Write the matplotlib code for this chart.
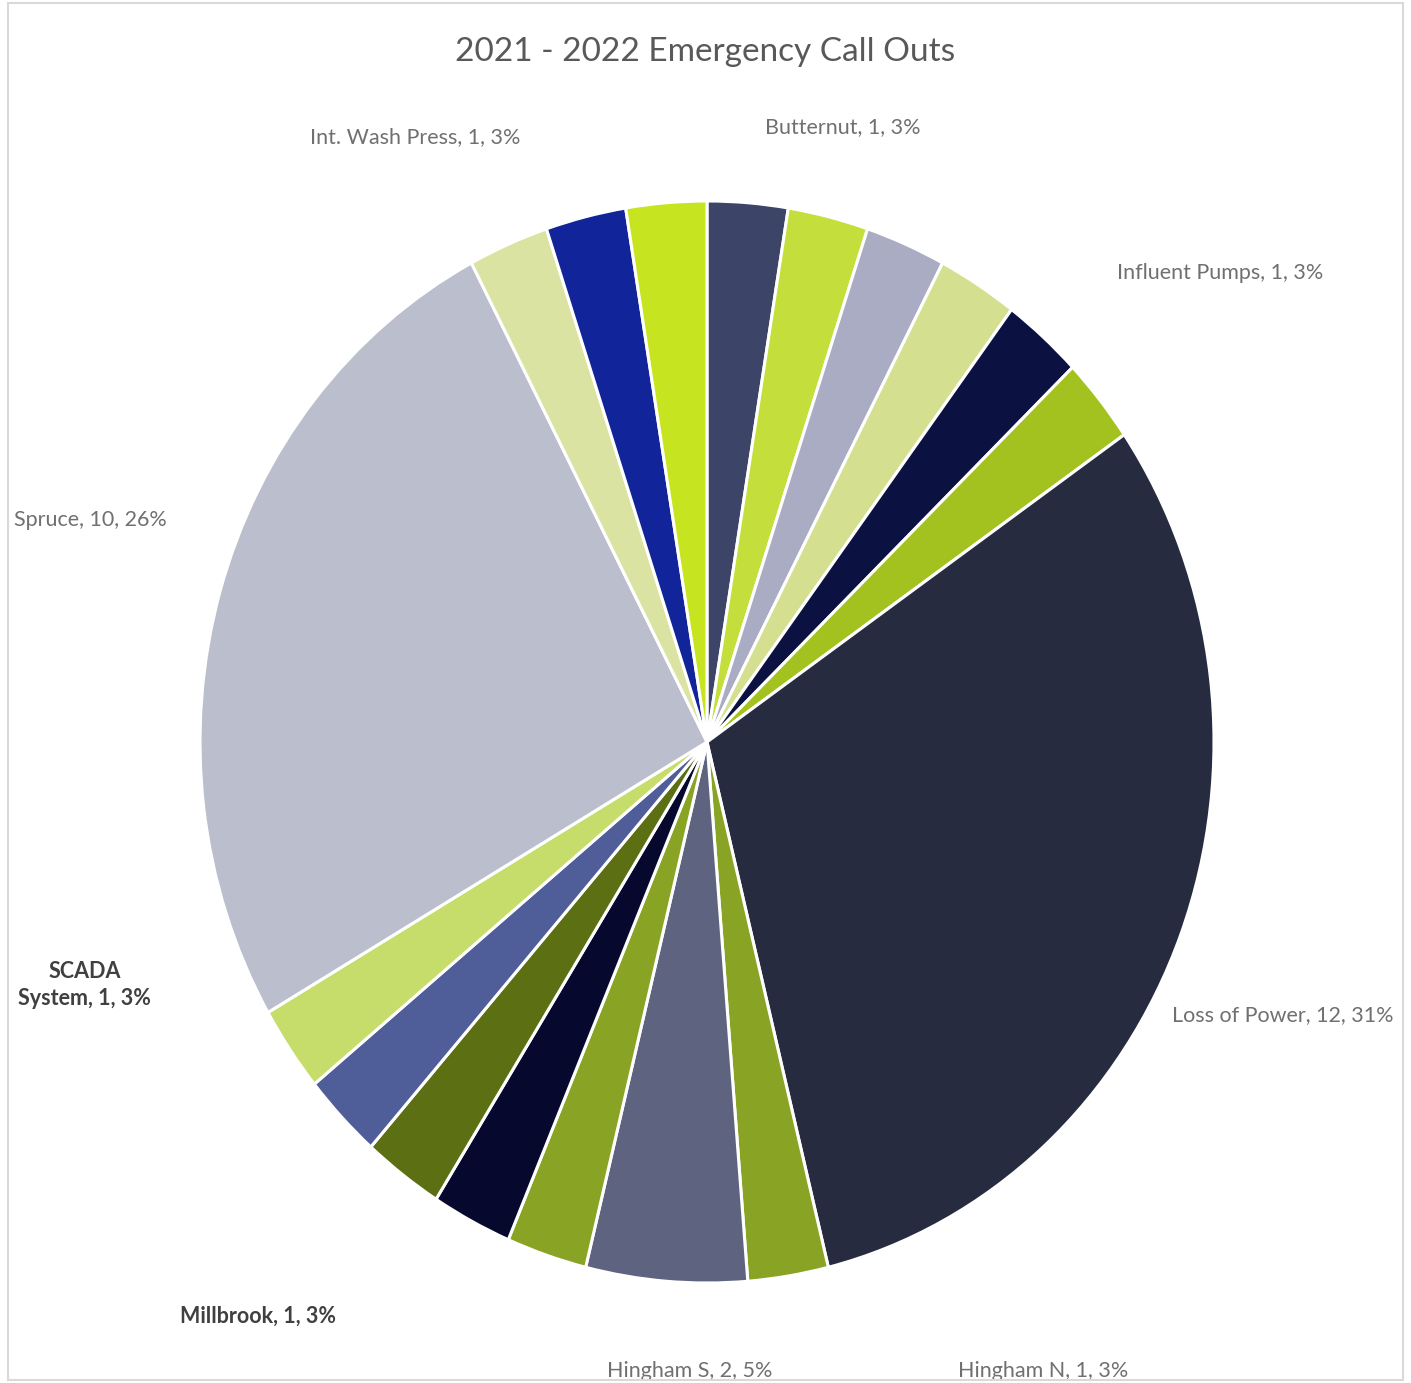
"""
2021 - 2022 emergency call outs, pie chart.
"""

import matplotlib
matplotlib.use("Agg")
import matplotlib.pyplot as plt
from matplotlib.patches import Rectangle

# slices clockwise from 12 o'clock; unlabelled slices have no name in the chart
categories = ["", "Butternut", "", "", "", "Influent Pumps", "Loss of Power",
              "Hingham N", "Hingham S", "", "", "Millbrook", "", "SCADA System",
              "Spruce", "Int. Wash Press", "", ""]
values = [1, 1, 1, 1, 1, 1, 12, 1, 2, 1, 1, 1, 1, 1, 10, 1, 1, 1]
colors = ["#3c4467", "#c4de3c", "#a9acc3", "#d4e08f", "#0b1241", "#a4c21f",
          "#262b40", "#89a325", "#5e6480", "#89a325", "#06082d", "#5c6f12",
          "#4f5d98", "#c6dd6b", "#bbbecd", "#dbe3a3", "#11249a", "#c6e41f"]

# label anchors (pie radius = 1), and which labels are bold / wrapped
label_pos = {
    "Int. Wash Press": (-0.576, 1.118),
    "Butternut": (0.268, 1.137),
    "Influent Pumps": (1.012, 0.867),
    "Spruce": (-1.217, 0.41),
    "SCADA System": (-1.227, -0.449),
    "Loss of Power": (1.136, -0.505),
    "Millbrook": (-0.886, -1.061),
    "Hingham S": (-0.034, -1.163),
    "Hingham N": (0.663, -1.163),
}
bold_labels = {"SCADA System", "Millbrook"}

plt.rcParams["font.family"] = ["Lato", "DejaVu Sans"]

W, H = 1411, 1383
fig = plt.figure(figsize=(W / 100, H / 100), dpi=100)

# chart area border
fig.add_artist(Rectangle((8 / W, 3 / H), 1395 / W, 1377 / H, transform=fig.transFigure,
                         fill=False, edgecolor="#d9d9d9", linewidth=1.5))

fig.text(705 / W, 1 - 52 / H, "2021 - 2022 Emergency Call Outs",
         ha="center", va="center", fontsize=24, color="#595959")

# pie is slightly stretched vertically in the source image
ax = fig.add_axes([200 / W, (H - 1283) / H, 1014 / W, 1082 / H])
ax.pie(values, colors=colors, startangle=90, counterclock=False,
       wedgeprops=dict(edgecolor="white", linewidth=2.2))
ax.set_aspect("auto")
ax.set_xlim(-1, 1)
ax.set_ylim(-1, 1)
ax.set_position([200 / W, (H - 1283) / H, 1014 / W, 1082 / H])

total = sum(values)
for name, v in zip(categories, values):
    if not name:
        continue
    pct = round(v / total * 100)
    text = f"{name}, {v}, {pct}%"
    if name == "SCADA System":
        text = f"SCADA\nSystem, {v}, {pct}%"
    x, y = label_pos[name]
    bold = name in bold_labels
    ax.text(x, y, text, ha="center", va="center", fontsize=15.5,
            color="#404040" if bold else "#707070",
            fontweight="bold" if bold else "normal", linespacing=1.4)

plt.savefig("out.png", dpi=100)
plt.close()
